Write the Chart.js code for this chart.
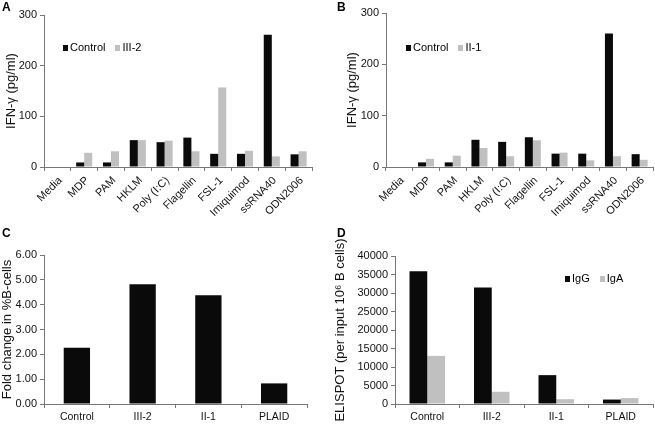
<!DOCTYPE html>
<html>
<head>
<meta charset="utf-8">
<script src="https://cdn.jsdelivr.net/npm/chart.js@4.4.1/dist/chart.umd.min.js"></script>
<style>
  body { margin: 0; background: #fff; font-family: "Liberation Sans", Arial, sans-serif; }
  #wrap { position: relative; width: 655px; height: 424px; overflow: hidden; }
  canvas { position: absolute; }
  .tag { position: absolute; font-weight: bold; font-size: 12px; color: #000; }
  .legend { position: absolute; font-size: 11px; color: #000; white-space: nowrap; }
  .legend span.box { display: inline-block; width: 5px; height: 6px; margin-right: 2px; vertical-align: 0px; }
  .legend span.item { margin-right: 10px; }
</style>
</head>
<body>
<div id="wrap">
  <canvas id="chartC" width="325" height="209" style="left:0;top:215px"></canvas>
  <canvas id="chartD" width="330" height="209" style="left:325px;top:215px"></canvas>
  <canvas id="chartA" width="325" height="224" style="left:0;top:0"></canvas>
  <canvas id="chartB" width="330" height="224" style="left:325px;top:0"></canvas>
  <div class="tag" style="left:2px;top:0px">A</div>
  <div class="tag" style="left:337px;top:0px">B</div>
  <div class="tag" style="left:2px;top:226px">C</div>
  <div class="tag" style="left:337px;top:226px">D</div>
  <div class="legend" id="legA" style="left:63px;top:41px"></div>
  <div class="legend" id="legB" style="left:406px;top:41px"></div>
  <div class="legend" id="legD" style="left:565px;top:272px"></div>
</div>
<script>
// stimuli for panels A and B
var stimuli = ['Media', 'MDP', 'PAM', 'HKLM', 'Poly (I:C)', 'Flagellin', 'FSL-1', 'Imiquimod', 'ssRNA40', 'ODN2006'];
var controlA = [0, 9, 9, 53, 49, 58, 26, 26, 261, 25];
var iii2A = [0, 28, 31, 53, 52, 31, 157, 32, 21, 31];
var controlB = [0, 9, 9, 53, 49, 58, 26, 26, 260, 25];
var ii1B = [0, 16, 22, 37, 21, 52, 28, 13, 21, 14];

// panels C and D
var groups = ['Control', 'III-2', 'II-1', 'PLAID'];
var foldChange = [2.27, 4.82, 4.38, 0.83];
var igg = [35900, 31500, 7800, 1200];
var iga = [13000, 3300, 1300, 1600];

var black = '#0a0a0a';
var grey = '#c0c0c0';
var axisCol = '#777';
var sans = '"Liberation Sans", Arial, sans-serif';
var narrow = { family: '"Liberation Sans Narrow", "Arial Narrow", sans-serif', size: 11 };

Chart.defaults.color = '#111';
Chart.defaults.font.family = sans;

function yAxis(opts) {
  return {
    min: 0, max: opts.max,
    afterFit: function(s) { s.width = opts.width; },
    border: { color: axisCol },
    grid: { drawOnChartArea: false, drawTicks: true, tickLength: 4, color: axisCol },
    ticks: { stepSize: opts.step, font: narrow, padding: 3, callback: opts.fmt || function(v) { return v; } },
    title: { display: true, text: opts.title, font: { family: sans, size: 13 }, padding: { top: opts.tpad, bottom: 0 } }
  };
}

function xAxis(h, rot, size, off, pad) {
  return {
    afterFit: function(s) { s.height = h; },
    border: { color: axisCol },
    grid: { drawOnChartArea: false, drawTicks: true, tickLength: 4, color: axisCol },
    ticks: { font: { family: sans, size: size }, padding: pad, labelOffset: off,
             minRotation: rot, maxRotation: rot, autoSkip: false }
  };
}

function barChart(id, labels, sets, cat, x, y, pad) {
  return new Chart(document.getElementById(id), {
    type: 'bar',
    data: {
      labels: labels,
      datasets: sets.map(function(d) {
        return { label: d.label, data: d.data, backgroundColor: d.color, borderWidth: 0,
                 categoryPercentage: cat, barPercentage: 1 };
      })
    },
    options: {
      responsive: false,
      animation: false,
      devicePixelRatio: 1,
      layout: { padding: pad },
      plugins: { legend: { display: false }, tooltip: { enabled: false } },
      scales: { x: x, y: y }
    }
  });
}

function legend(id, sets) {
  var html = '';
  sets.forEach(function(d) {
    html += '<span class="item"><span class="box" style="background:' + d.color + '"></span>' + d.label + '</span>';
  });
  document.getElementById(id).innerHTML = html;
}

var setsA = [{ label: 'Control', data: controlA, color: black }, { label: 'III-2', data: iii2A, color: grey }];
var setsB = [{ label: 'Control', data: controlB, color: black }, { label: 'II-1', data: ii1B, color: grey }];
var setsC = [{ label: 'Fold change', data: foldChange, color: black }];
var setsD = [{ label: 'IgG', data: igg, color: black }, { label: 'IgA', data: iga, color: grey }];

barChart('chartA', stimuli, setsA, 0.6, xAxis(57, 45, 11, 3, 3),
  yAxis({ max: 300, step: 100, width: 44, title: 'IFN-γ (pg/ml)', tpad: 4 }),
  { left: 0, top: 15, right: 13, bottom: 0 });

barChart('chartB', stimuli, setsB, 0.6, xAxis(57, 45, 11, 3, 3),
  yAxis({ max: 300, step: 100, width: 45, title: 'IFN-γ (pg/ml)', tpad: 4 }),
  { left: 16, top: 13, right: 2, bottom: 0 });

barChart('chartC', groups, setsC, 0.4, xAxis(20, 0, 10.5, 0, 3),
  yAxis({ max: 6, step: 1, width: 44, title: 'Fold change in %B-cells', tpad: 0,
          fmt: function(v) { return v.toFixed(2); } }),
  { left: 0, top: 40, right: 18, bottom: 0 });

barChart('chartD', groups, setsD, 0.55, xAxis(20, 0, 10.5, 0, 3),
  yAxis({ max: 40000, step: 5000, width: 66, title: 'ELISPOT (per input 10⁶ B cells)', tpad: 4 }),
  { left: 4, top: 41, right: 2, bottom: 0 });

legend('legA', setsA);
legend('legB', setsB);
legend('legD', setsD);
</script>
</body>
</html>
